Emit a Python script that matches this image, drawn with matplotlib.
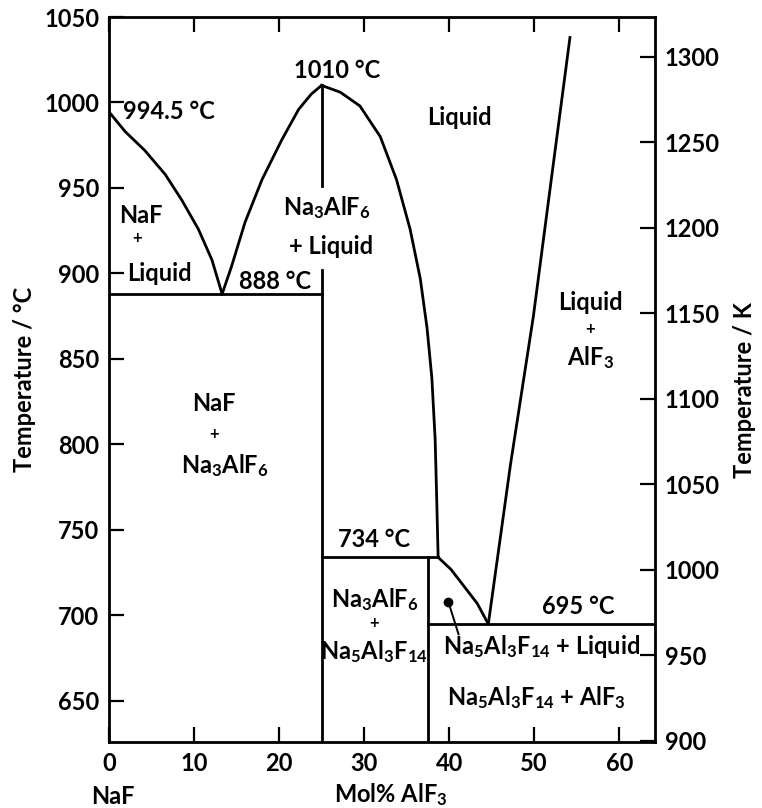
import matplotlib
matplotlib.use("Agg")
import matplotlib.pyplot as plt

plt.rcParams["font.family"] = ["Lato", "DejaVu Sans"]
plt.rcParams["font.weight"] = "bold"
plt.rcParams["mathtext.fontset"] = "custom"
plt.rcParams["mathtext.rm"] = "Lato:bold"
plt.rcParams["mathtext.default"] = "rm"

# liquidus branches (mol% AlF3, deg C)
naf_liq_x = [0, 1.9, 4.2, 6.6, 8.55, 10.5, 12.1, 13.3]
naf_liq_t = [994.5, 983, 972, 958, 943, 926, 908, 888]
cry_left_x = [13.3, 14.4, 16.0, 18.0, 20.3, 22.3, 23.8, 25]
cry_left_t = [888, 904, 930, 955, 978, 996, 1005, 1010]
cry_right_x = [25, 27.2, 29.5, 31.9, 33.8, 35.4, 36.6, 37.4, 37.96, 38.35, 38.55, 38.7]
cry_right_t = [1010, 1006, 998, 980, 955, 926, 897, 868, 839, 803, 765, 734]
chiolite_x = [38.7, 40.2, 41.6, 43.3, 44.6]
chiolite_t = [734, 727, 718, 707, 695]
alf3_x = [44.6, 47.2, 49.9, 51.9, 54.2]
alf3_t = [695, 788, 875, 951, 1038]

# invariant lines
eut1_t, eut1_x = 888, [0, 25]
peri_t, peri_x = 734, [25, 38.7]
eut2_t, eut2_x = 695, [37.5, 64.2]
cryolite_x, chiolite_comp = 25, 37.5
dot_x, dot_t = 39.9, 708
lead_x, lead_t = 41.1, 689

x_ticks = [0, 10, 20, 30, 40, 50, 60]
c_ticks = [650, 700, 750, 800, 850, 900, 950, 1000, 1050]
k_ticks = [900, 950, 1000, 1050, 1100, 1150, 1200, 1250, 1300]
t_min, t_max = 626, 1050

fs = 17
lw = 2.0
fig = plt.figure(figsize=(7.62, 8.08), dpi=100)
ax = fig.add_axes([109/762, 1-742/808, (655-109)/762, (742-17)/808])

k = "black"
ax.plot(naf_liq_x, naf_liq_t, color=k, lw=lw)
ax.plot(cry_left_x, cry_left_t, color=k, lw=lw)
ax.plot(cry_right_x, cry_right_t, color=k, lw=lw)
ax.plot(chiolite_x, chiolite_t, color=k, lw=lw)
ax.plot(alf3_x, alf3_t, color=k, lw=lw)
ax.plot(eut1_x, [eut1_t]*2, color=k, lw=lw)
ax.plot(peri_x, [peri_t]*2, color=k, lw=lw)
ax.plot(eut2_x, [eut2_t]*2, color=k, lw=lw)
ax.plot([cryolite_x]*2, [1010, 951], color=k, lw=lw)
ax.plot([cryolite_x]*2, [902, t_min], color=k, lw=lw)
ax.plot([chiolite_comp]*2, [peri_t, t_min], color=k, lw=lw)
ax.plot([dot_x, lead_x], [dot_t, lead_t], color=k, lw=1.4)
ax.plot([dot_x], [dot_t], "o", color=k, ms=6)

ax.set_xlim(0, 64.2)
ax.set_ylim(t_min, t_max)
ax.set_xticks(x_ticks)
ax.set_yticks(c_ticks)
ax.tick_params(direction="in", length=11, width=1.6, labelsize=fs, pad=7,
               top=True, right=False)
for s in ax.spines.values():
    s.set_linewidth(2.0)

ax2 = ax.twinx()
ax2.set_ylim(t_min + 273.15, t_max + 273.15)
ax2.set_yticks(k_ticks)
ax2.tick_params(direction="in", length=11, width=1.6, labelsize=fs, pad=7)

def lab(x, y, s, ha="center", size=fs):
    ax.text(x, y, s, fontsize=size, ha=ha, va="center")

small = fs - 5
lab(1.6, 994.7, "994.5 °C", ha="left")
lab(26.8, 1019, "1010 °C")
lab(41.2, 991, "Liquid")
lab(3.8, 934, "NaF")
lab(3.3, 921, "+", size=small)
lab(5.9, 900, "Liquid")
lab(19.5, 895.5, "888 °C")
lab(25.6, 938.7, "Na$_3$AlF$_6$")
lab(26.1, 916, "+ Liquid")
lab(56.6, 883, "Liquid")
lab(56.6, 867.6, "+", size=small)
lab(56.6, 851, "AlF$_3$")
lab(12.3, 824, "NaF")
lab(12.3, 806, "+", size=small)
lab(13.6, 787.7, "Na$_3$AlF$_6$")
lab(31.2, 744.5, "734 °C")
lab(31.2, 709.5, "Na$_3$AlF$_6$")
lab(31.2, 695.5, "+", size=small)
lab(31.2, 679, "Na$_5$Al$_3$F$_{14}$")
lab(55.2, 705.5, "695 °C")
lab(50.8, 682, "Na$_5$Al$_3$F$_{14}$ + Liquid")
lab(50.2, 652, "Na$_5$Al$_3$F$_{14}$ + AlF$_3$")

fig.text(113/762, 1-796/808, "NaF", fontsize=fs, ha="center", va="center")
fig.text(391/762, 1-795/808, "Mol% AlF$_3$", fontsize=fs, ha="center", va="center")
fig.text(25/762, 1-379/808, "Temperature / °C", fontsize=fs, rotation=90,
         ha="center", va="center")
fig.text(745/762, 1-390/808, "Temperature / K", fontsize=fs, rotation=90,
         ha="center", va="center")

fig.savefig("out.png", dpi=100)
